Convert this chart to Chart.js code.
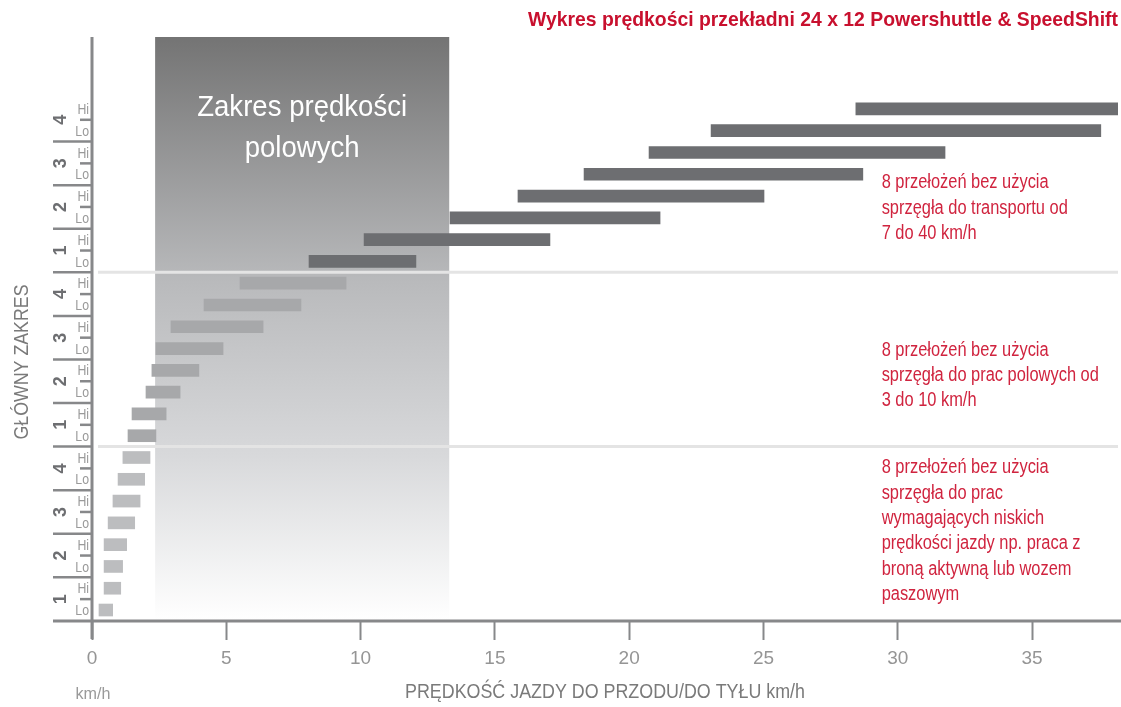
<!DOCTYPE html>
<html>
<head>
<meta charset="utf-8">
<script src="https://cdn.jsdelivr.net/npm/chart.js@4.4.1/dist/chart.umd.min.js"></script>
<style>
  body { margin: 0; background: #fff; }
  #chart { display: block; }
</style>
</head>
<body>
<canvas id="chart" width="1121" height="707"></canvas>
<script>
// rows go bottom -> top: 3 ranges x 4 groups x Lo/Hi
const rowLabels = ['Lo','Hi','Lo','Hi','Lo','Hi','Lo','Hi',
                   'Lo','Hi','Lo','Hi','Lo','Hi','Lo','Hi',
                   'Lo','Hi','Lo','Hi','Lo','Hi','Lo','Hi'];
const groupLabels = ['1', '2', '3', '4'];
const xTicks = [0, 5, 10, 15, 20, 25, 30, 35];

// speeds km/h (start, end) for each range
const lowStart = [0.26, 0.45, 0.45, 0.45, 0.60, 0.78, 0.97, 1.15];
const lowEnd   = [0.77, 1.07, 1.14, 1.29, 1.59, 1.79, 1.96, 2.16];
const fieldStart = [1.34, 1.49, 2.01, 2.23, 2.38, 2.94, 4.17, 5.51];
const fieldEnd   = [2.38, 2.76, 3.28, 3.98, 4.88, 6.37, 7.78, 9.46];
const transportStart = [8.08, 10.13, 13.33, 15.86, 18.32, 20.74, 23.05, 28.44];
const transportEnd   = [12.06, 17.05, 21.15, 25.02, 28.70, 31.76, 37.56, 38.2];

const fieldBand = [2.35, 13.3];

const chartTitle = 'Wykres prędkości przekładni 24 x 12 Powershuttle & SpeedShift';
const bandText = ['Zakres prędkości', 'polowych'];
const yTitle = 'GŁÓWNY ZAKRES';
const xTitle = 'PRĘDKOŚĆ JAZDY DO PRZODU/DO TYŁU km/h';
const unitText = 'km/h';
const notes = [
  ['8 przełożeń bez użycia', 'sprzęgła do transportu od', '7 do 40 km/h'],
  ['8 przełożeń bez użycia', 'sprzęgła do prac polowych od', '3 do 10 km/h'],
  ['8 przełożeń bez użycia', 'sprzęgła do prac', 'wymagających niskich',
   'prędkości jazdy np. praca z', 'broną aktywną lub wozem', 'paszowym']
];

const FONT = "'Liberation Sans', Arial, sans-serif";
const RED = '#d0243f';
const AXIS = '#87888a';

function rows(starts, ends, offset) {
  return starts.map((s, i) => ({ x: [s, ends[i]], y: offset + i }));
}

// condensed text: squeeze horizontally by sx
function cText(ctx, text, x, y, sx) {
  ctx.save();
  ctx.translate(x, y);
  ctx.scale(sx, 1);
  ctx.fillText(text, 0, 0);
  ctx.restore();
}
function squeeze(ctx, sample, width) {
  return width / ctx.measureText(sample).width;
}

const decor = {
  id: 'decor',
  beforeDatasetsDraw(chart) {
    const { ctx, scales: { x, y }, chartArea } = chart;
    const x0 = x.getPixelForValue(fieldBand[0]);
    const x1 = x.getPixelForValue(fieldBand[1]);
    const top = chartArea.top;
    const bot = y.getPixelForValue(-0.45);
    const g = ctx.createLinearGradient(0, top, 0, bot);
    g.addColorStop(0, '#747474');
    g.addColorStop(0.42, '#b9babc');
    g.addColorStop(0.72, '#d8d9db');
    g.addColorStop(1, '#ffffff');
    ctx.save();
    ctx.fillStyle = g;
    ctx.fillRect(x0, top, x1 - x0, bot - top);
    ctx.fillStyle = '#ffffff';
    ctx.font = '30px ' + FONT;
    ctx.textAlign = 'center';
    ctx.textBaseline = 'middle';
    const sb = squeeze(ctx, bandText[0], 210);
    bandText.forEach((t, i) => cText(ctx, t, (x0 + x1) / 2, 108 + i * 41, sb));
    ctx.restore();
  },
  afterDatasetsDraw(chart) {
    const { ctx, scales: { x, y }, chartArea } = chart;
    ctx.save();
    // range separators
    ctx.strokeStyle = '#e4e4e4';
    ctx.lineWidth = 3;
    [7.5, 15.5].forEach(v => {
      const py = y.getPixelForValue(v);
      ctx.beginPath();
      ctx.moveTo(chartArea.left + 6, py);
      ctx.lineTo(chartArea.right, py);
      ctx.stroke();
    });
    // axis lines
    const ax = x.getPixelForValue(0);
    const ay = y.getPixelForValue(-0.5);
    ctx.strokeStyle = AXIS;
    ctx.lineWidth = 3;
    ctx.beginPath();
    ctx.moveTo(ax, chartArea.top);
    ctx.lineTo(ax, ay + 18);
    ctx.stroke();
    ctx.beginPath();
    ctx.moveTo(53, ay);
    ctx.lineTo(chart.width, ay);
    ctx.stroke();
    // y tick marks on row boundaries
    ctx.lineWidth = 2.5;
    for (let i = 0; i < rowLabels.length - 1; i++) {
      const py = y.getPixelForValue(i + 0.5);
      const long = i % 2 === 1;
      ctx.beginPath();
      ctx.moveTo(long ? 53 : 80, py);
      ctx.lineTo(ax, py);
      ctx.stroke();
    }
    // Lo / Hi row labels
    ctx.fillStyle = '#9a9a9a';
    ctx.font = '15px ' + FONT;
    ctx.textAlign = 'right';
    ctx.textBaseline = 'middle';
    rowLabels.forEach((t, i) => cText(ctx, t, ax - 3, y.getPixelForValue(i) + 1, 0.82));
    // group numbers
    ctx.fillStyle = '#6d6e71';
    ctx.font = 'bold 18px ' + FONT;
    ctx.textAlign = 'center';
    for (let i = 0; i < rowLabels.length; i += 2) {
      const py = y.getPixelForValue(i + 0.5);
      ctx.save();
      ctx.translate(61, py);
      ctx.rotate(-Math.PI / 2);
      ctx.fillText(groupLabels[(i / 2) % 4], 0, 0);
      ctx.restore();
    }
    // axis titles
    ctx.fillStyle = '#7a7a7a';
    ctx.font = '21px ' + FONT;
    ctx.save();
    ctx.translate(22, 362);
    ctx.rotate(-Math.PI / 2);
    cText(ctx, yTitle, 0, 0, squeeze(ctx, yTitle, 155));
    ctx.restore();
    cText(ctx, xTitle, 605, 692, squeeze(ctx, xTitle, 400));
    ctx.fillStyle = '#9a9a9a';
    ctx.font = '17px ' + FONT;
    cText(ctx, unitText, 93, 694, squeeze(ctx, unitText, 35));
    // chart title
    ctx.fillStyle = '#c8102e';
    ctx.font = 'bold 21px ' + FONT;
    ctx.textAlign = 'right';
    cText(ctx, chartTitle, 1118, 20, squeeze(ctx, chartTitle, 590));
    // notes
    ctx.fillStyle = RED;
    ctx.font = '20px ' + FONT;
    ctx.textAlign = 'left';
    const sn = squeeze(ctx, notes[0][0], 167);
    const nx = x.getPixelForValue(29.4);
    [19.6, 11.93, 6.52].forEach((v, k) => {
      const py = y.getPixelForValue(v);
      notes[k].forEach((t, i) => cText(ctx, t, nx, py + i * 25.3, sn));
    });
    ctx.restore();
  }
};

new Chart(document.getElementById('chart'), {
  type: 'bar',
  data: {
    datasets: [
      { label: 'low', data: rows(lowStart, lowEnd, 0), backgroundColor: '#bcbdbf' },
      { label: 'field', data: rows(fieldStart, fieldEnd, 8), backgroundColor: '#a7a8aa' },
      { label: 'transport', data: rows(transportStart, transportEnd, 16), backgroundColor: '#6d6e71' }
    ]
  },
  options: {
    indexAxis: 'y',
    responsive: false,
    animation: false,
    devicePixelRatio: 1,
    layout: { padding: { top: 37, right: 3, left: 0, bottom: 0 } },
    datasets: { bar: { barThickness: 12, borderWidth: 0, grouped: false } },
    plugins: { legend: { display: false }, tooltip: { enabled: false } },
    scales: {
      x: {
        type: 'linear',
        min: 0,
        max: 38.2,
        afterBuildTicks: s => { s.ticks = xTicks.map(v => ({ value: v })); },
        afterFit: s => { s.height = 85; s.paddingLeft = 0; s.paddingRight = 0; },
        border: { display: false },
        grid: { drawOnChartArea: false, drawTicks: true, tickLength: 18, tickColor: AXIS, tickWidth: 2 },
        ticks: { color: '#959595', font: { family: FONT, size: 19 }, padding: 7, maxRotation: 0 }
      },
      y: {
        type: 'linear',
        offset: false,
        min: -0.55,
        max: 26.3,
        afterBuildTicks: s => { s.ticks = rowLabels.map((_, i) => ({ value: i })); },
        afterFit: s => { s.width = 92; s.paddingTop = 0; s.paddingBottom = 0; },
        border: { display: false },
        grid: { display: false },
        ticks: { display: false }
      }
    }
  },
  plugins: [decor]
});
</script>
</body>
</html>
